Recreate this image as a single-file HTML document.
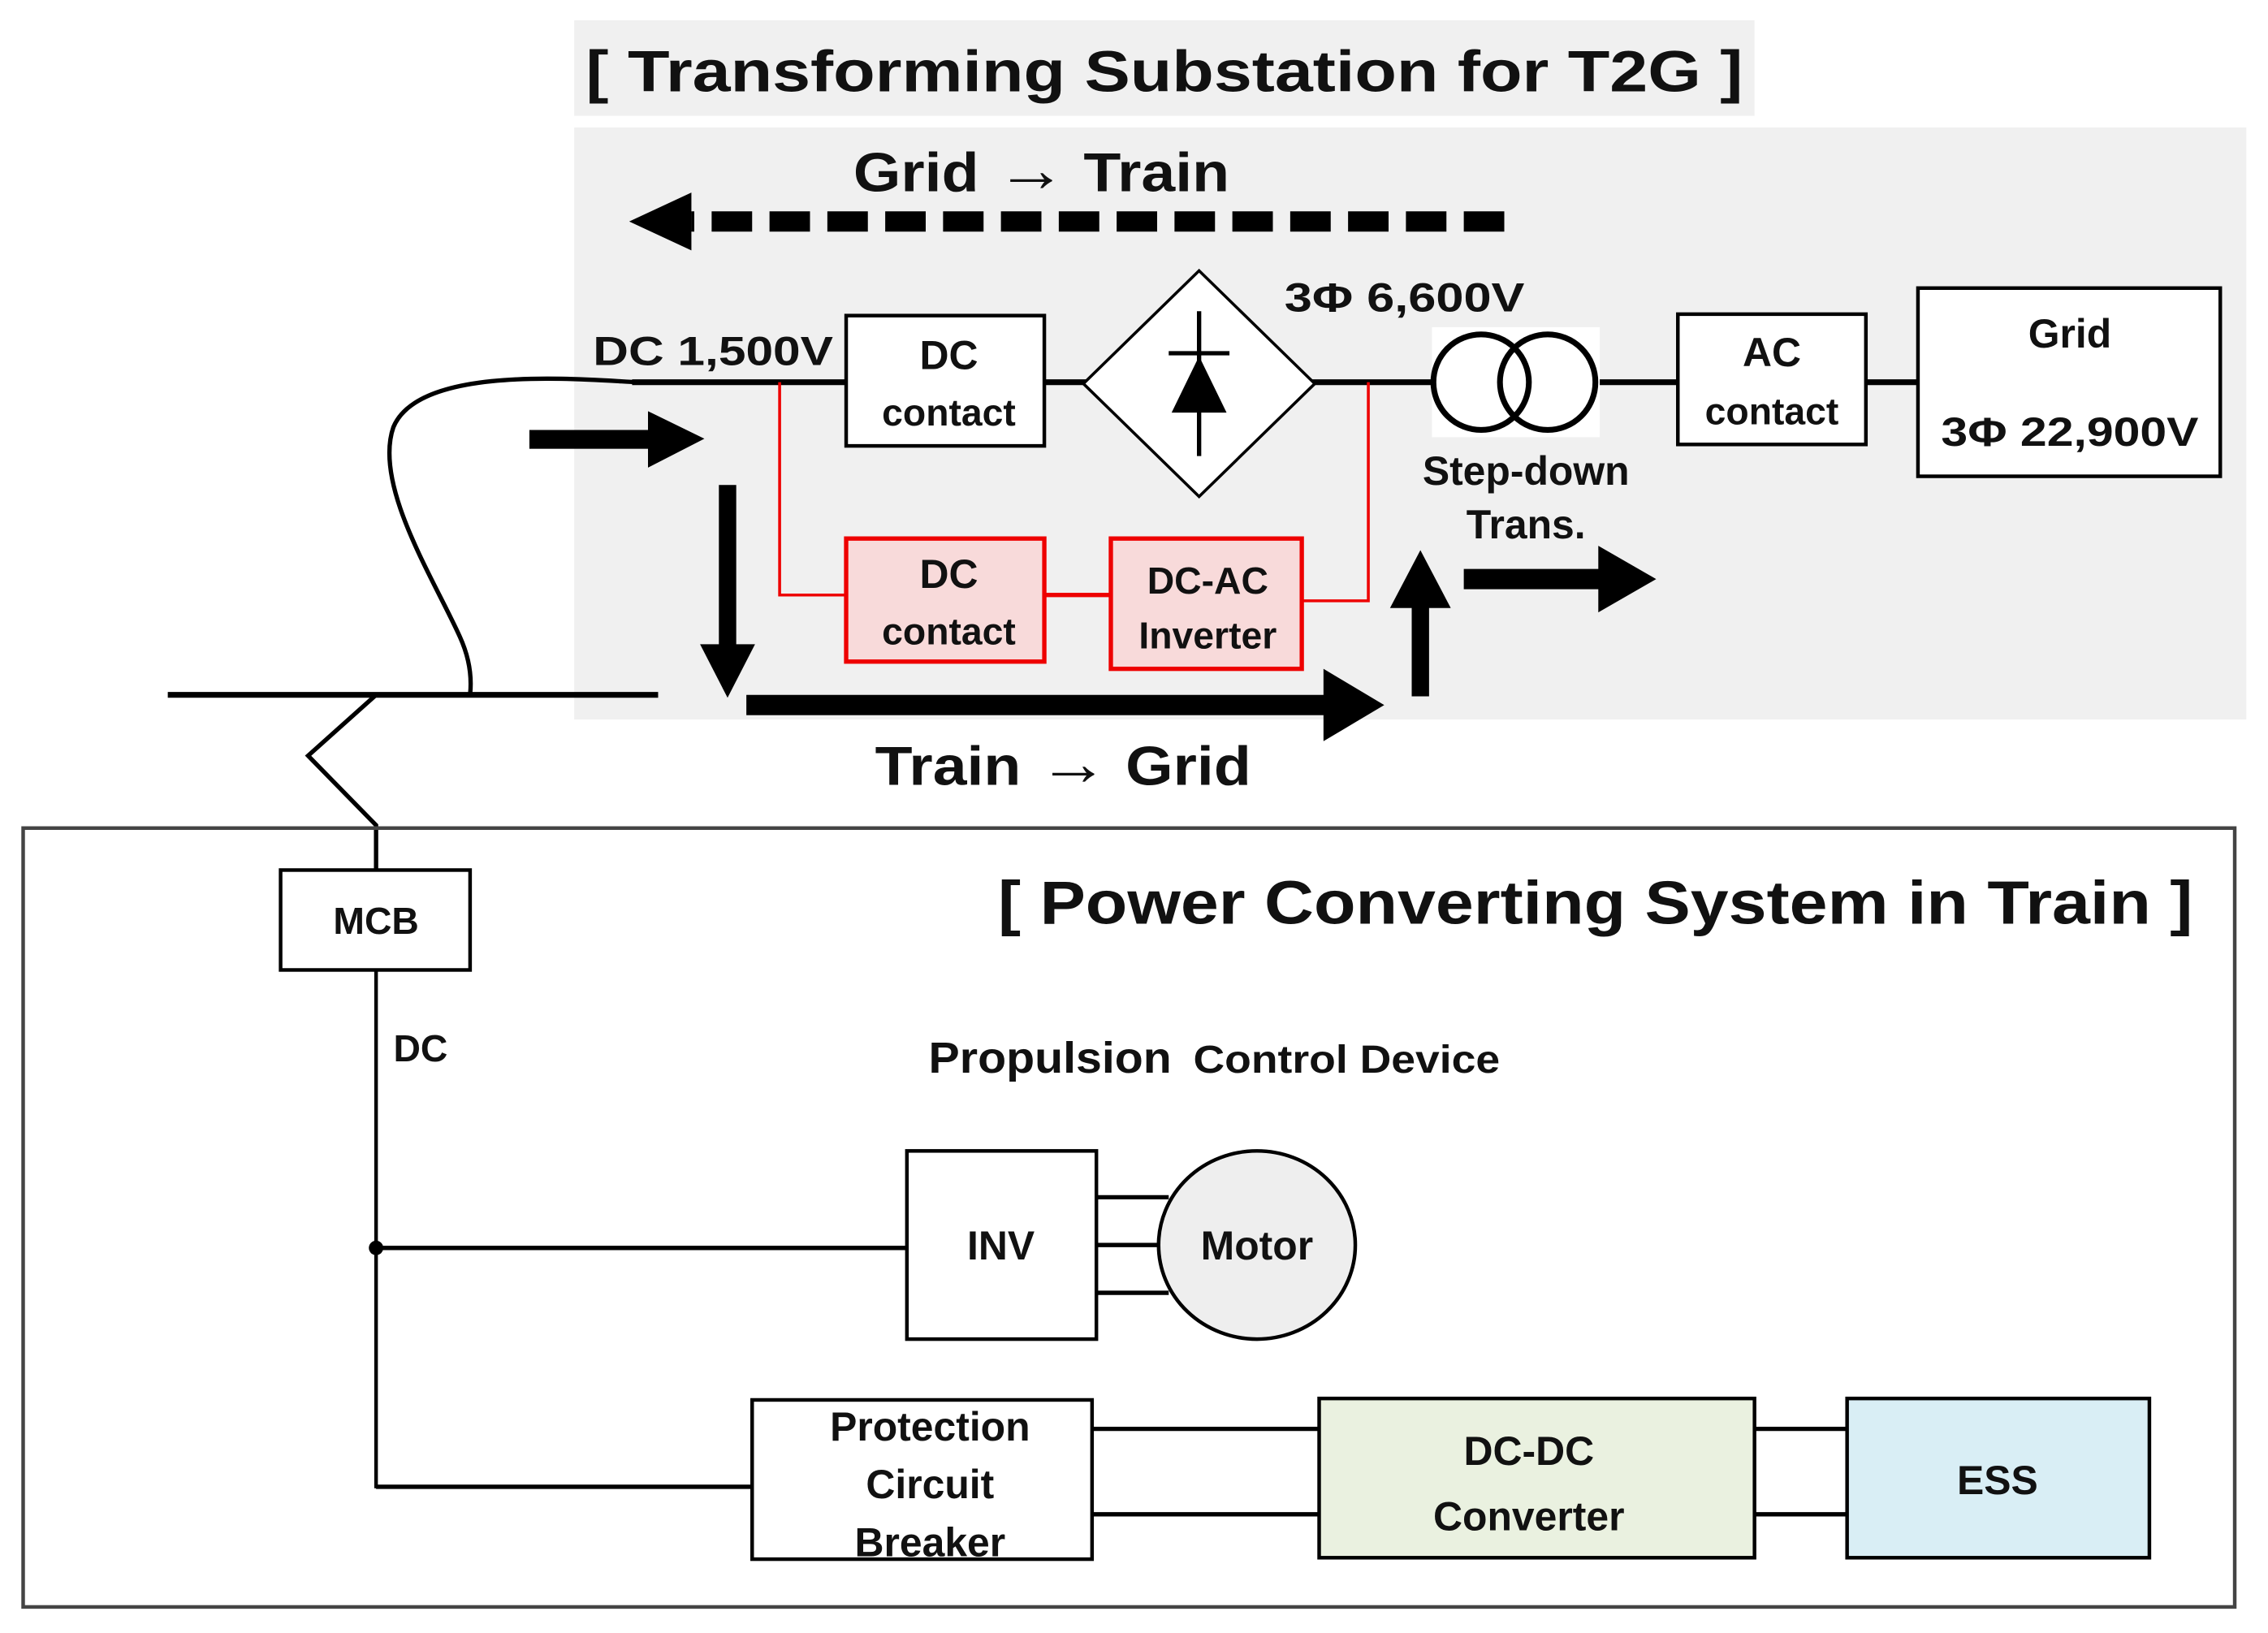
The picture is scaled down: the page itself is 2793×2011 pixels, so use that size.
<!DOCTYPE html>
<html><head><meta charset="utf-8"><style>
html,body{margin:0;padding:0;background:#fff;}
svg{display:block;}
text{font-family:"Liberation Sans",sans-serif;font-weight:bold;fill:#111;}
</style></head><body>
<svg width="2793" height="2011" viewBox="0 0 1568 1128" preserveAspectRatio="none" xmlns="http://www.w3.org/2000/svg">
<rect x="397" y="14" width="816" height="66" fill="#f0f0f0"/>
<text x="405" y="63" font-size="40" textLength="800" lengthAdjust="spacingAndGlyphs">[ Transforming Substation for T2G ]</text>
<rect x="397" y="88" width="1156" height="409" fill="#f0f0f0"/>
<text x="590" y="132" font-size="38" textLength="260" lengthAdjust="spacingAndGlyphs">Grid <tspan font-size="44">→</tspan> Train</text>
<line x1="1040" y1="153" x2="478" y2="153" stroke="#000" stroke-width="14" stroke-dasharray="28,12"/>
<polygon points="435,153 478,133 478,173" fill="#000"/>
<text x="410" y="252" font-size="28" textLength="166" lengthAdjust="spacingAndGlyphs">DC 1,500V</text>
<line x1="437" y1="264" x2="1325" y2="264" stroke="#000" stroke-width="4"/>
<path d="M440,264 C400,262 290,252 272,295 C258,335 300,400 318,440 C328,462 325,478 325,480" fill="none" stroke="#000" stroke-width="3"/>
<polyline points="539,264 539,411 585,411" fill="none" stroke="#e00" stroke-width="2"/>
<line x1="722" y1="411" x2="768" y2="411" stroke="#e00" stroke-width="3"/>
<polyline points="900,415 946,415 946,264" fill="none" stroke="#e00" stroke-width="2"/>
<rect x="585" y="218" width="137" height="90" fill="#fff" stroke="#000" stroke-width="2.5"/>
<text x="656" y="255" font-size="28" text-anchor="middle">DC</text>
<text x="656" y="294" font-size="26" text-anchor="middle">contact</text>
<polygon points="829,187 909,265 829,343 749,265" fill="#fff" stroke="#000" stroke-width="2"/>
<line x1="829" y1="215" x2="829" y2="315" stroke="#000" stroke-width="3"/>
<line x1="808" y1="244" x2="850" y2="244" stroke="#000" stroke-width="3"/>
<polygon points="829,246 810,285 848,285" fill="#000"/>
<text x="888" y="215" font-size="28" textLength="166" lengthAdjust="spacingAndGlyphs">3Φ 6,600V</text>
<rect x="990" y="226" width="116" height="76" fill="#fff"/>
<circle cx="1024" cy="264" r="33" fill="none" stroke="#000" stroke-width="4"/>
<circle cx="1070" cy="264" r="33" fill="none" stroke="#000" stroke-width="4"/>
<rect x="1160" y="217" width="130" height="90" fill="#fff" stroke="#000" stroke-width="2.5"/>
<text x="1225" y="253" font-size="28" text-anchor="middle">AC</text>
<text x="1225" y="293" font-size="26" text-anchor="middle">contact</text>
<rect x="1326" y="199" width="209" height="130" fill="#fff" stroke="#000" stroke-width="2.5"/>
<text x="1431" y="240" font-size="28" text-anchor="middle">Grid</text>
<text x="1431" y="308" font-size="28" text-anchor="middle" textLength="178" lengthAdjust="spacingAndGlyphs">3Φ 22,900V</text>
<text x="1055" y="335" font-size="28" text-anchor="middle">Step-down</text>
<text x="1055" y="372" font-size="28" text-anchor="middle">Trans.</text>
<rect x="585" y="372" width="137" height="85" fill="#f8dada" stroke="#e00" stroke-width="3"/>
<text x="656" y="406" font-size="28" text-anchor="middle">DC</text>
<text x="656" y="445" font-size="26" text-anchor="middle">contact</text>
<rect x="768" y="372" width="132" height="90" fill="#f8dada" stroke="#e00" stroke-width="3"/>
<text x="835" y="410" font-size="26" text-anchor="middle">DC-AC</text>
<text x="835" y="448" font-size="26" text-anchor="middle">Inverter</text>
<rect x="366" y="297" width="84" height="13" fill="#000"/>
<polygon points="487,303 448,284 448,323" fill="#000"/>
<rect x="497" y="335" width="12" height="112" fill="#000"/>
<polygon points="484,445 522,445 503,482" fill="#000"/>
<rect x="516" y="480" width="402" height="14" fill="#000"/>
<polygon points="957,487 915,462 915,512" fill="#000"/>
<rect x="976" y="418" width="12" height="63" fill="#000"/>
<polygon points="982,380 961,420 1003,420" fill="#000"/>
<rect x="1012" y="393" width="96" height="14" fill="#000"/>
<polygon points="1145,400 1105,377 1105,423" fill="#000"/>
<text x="605" y="542" font-size="38" textLength="260" lengthAdjust="spacingAndGlyphs">Train <tspan font-size="44">→</tspan> Grid</text>
<line x1="116" y1="480" x2="455" y2="480" stroke="#000" stroke-width="4"/>
<polyline points="260,480 213,522 260,570 260,601" fill="none" stroke="#000" stroke-width="3"/>
<rect x="16" y="572" width="1529" height="538" fill="none" stroke="#444" stroke-width="2.5"/>
<text x="690" y="638" font-size="42" textLength="826" lengthAdjust="spacingAndGlyphs">[ Power Converting System in Train ]</text>
<rect x="194" y="601" width="131" height="69" fill="#fff" stroke="#000" stroke-width="2.5"/>
<text x="260" y="645" font-size="26" text-anchor="middle">MCB</text>
<line x1="260" y1="670" x2="260" y2="1028" stroke="#000" stroke-width="2.5"/>
<text x="272" y="733" font-size="26">DC</text>
<text x="642" y="741" font-size="30" textLength="168" lengthAdjust="spacingAndGlyphs">Propulsion</text>
<text x="825" y="741" font-size="27" textLength="212" lengthAdjust="spacingAndGlyphs">Control Device</text>
<circle cx="260" cy="862" r="5" fill="#000"/>
<line x1="260" y1="862" x2="627" y2="862" stroke="#000" stroke-width="3"/>
<rect x="627" y="795" width="131" height="130" fill="#fff" stroke="#000" stroke-width="2.5"/>
<text x="692" y="870" font-size="28" text-anchor="middle">INV</text>
<line x1="758" y1="827" x2="808" y2="827" stroke="#000" stroke-width="3"/>
<line x1="758" y1="860" x2="802" y2="860" stroke="#000" stroke-width="3"/>
<line x1="758" y1="893" x2="808" y2="893" stroke="#000" stroke-width="3"/>
<ellipse cx="869" cy="860" rx="68" ry="65" fill="#eeeeee" stroke="#000" stroke-width="2.5"/>
<text x="869" y="870" font-size="28" text-anchor="middle">Motor</text>
<line x1="260" y1="1027" x2="520" y2="1027" stroke="#000" stroke-width="3"/>
<rect x="520" y="967" width="235" height="110" fill="#fff" stroke="#000" stroke-width="2.5"/>
<text x="643" y="995" font-size="28" text-anchor="middle">Protection</text>
<text x="643" y="1035" font-size="28" text-anchor="middle">Circuit</text>
<text x="643" y="1075" font-size="28" text-anchor="middle">Breaker</text>
<line x1="755" y1="987" x2="912" y2="987" stroke="#000" stroke-width="3"/>
<line x1="755" y1="1046" x2="912" y2="1046" stroke="#000" stroke-width="3"/>
<rect x="912" y="966" width="301" height="110" fill="#eaf1e0" stroke="#000" stroke-width="2.5"/>
<text x="1057" y="1012" font-size="28" text-anchor="middle">DC-DC</text>
<text x="1057" y="1057" font-size="28" text-anchor="middle">Converter</text>
<line x1="1213" y1="987" x2="1277" y2="987" stroke="#000" stroke-width="3"/>
<line x1="1213" y1="1046" x2="1277" y2="1046" stroke="#000" stroke-width="3"/>
<rect x="1277" y="966" width="209" height="110" fill="#d9eef5" stroke="#000" stroke-width="2.5"/>
<text x="1381" y="1032" font-size="28" text-anchor="middle">ESS</text>
</svg>
</body></html>
